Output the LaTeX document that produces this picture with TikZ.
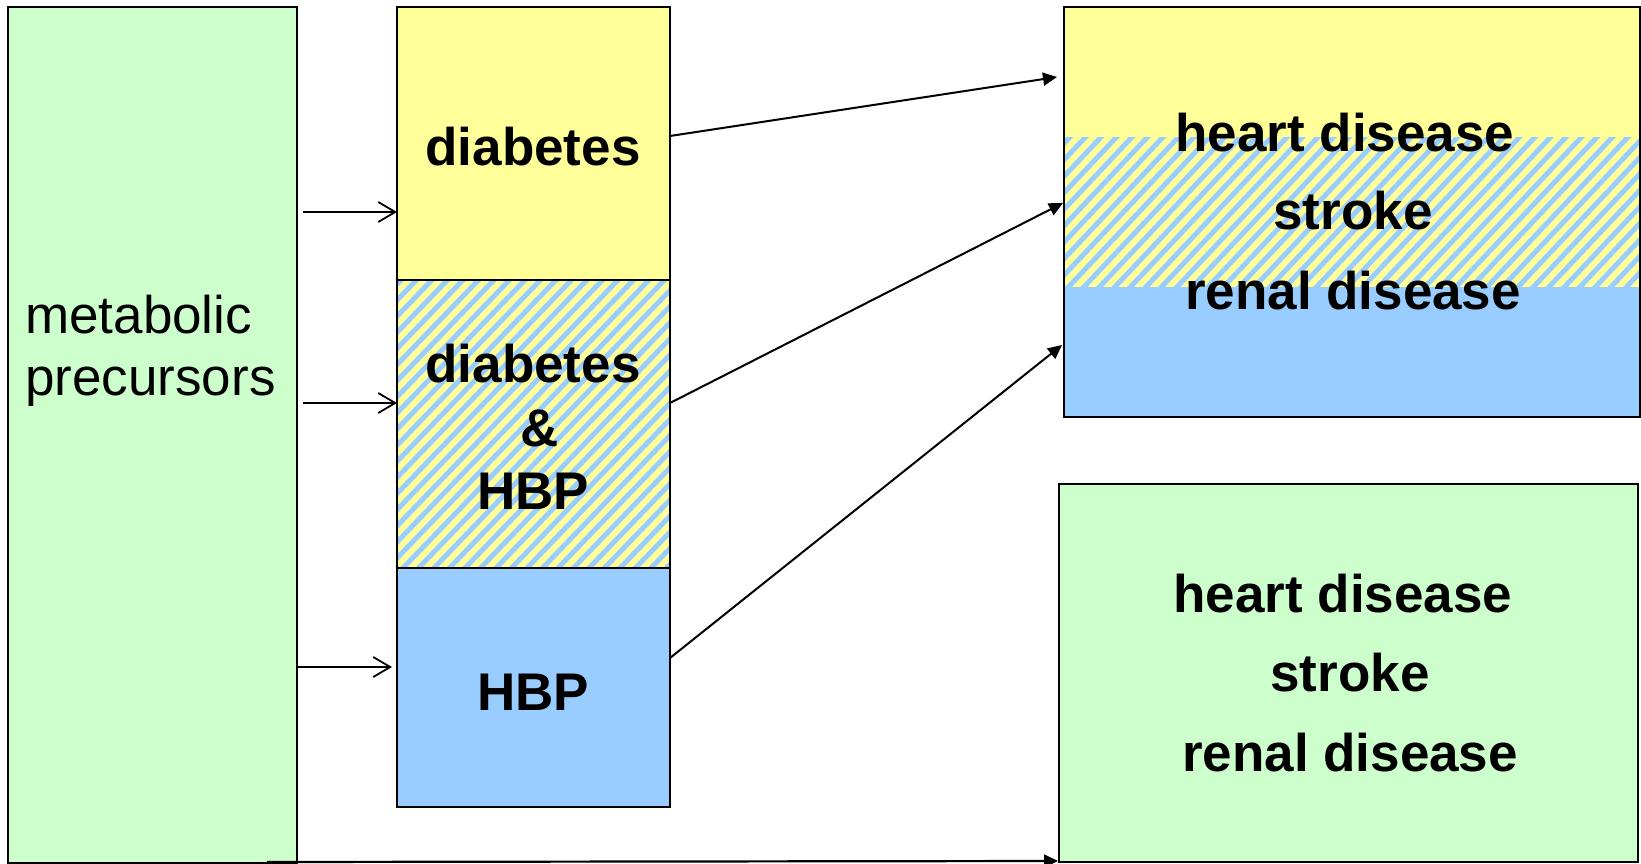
\documentclass[tikz,border=0pt]{standalone}
\usepackage{fontspec}
\setmainfont{Liberation Sans}
\usetikzlibrary{arrows.meta,calc}
\definecolor{pgreen}{RGB}{204,255,204}
\definecolor{pyellow}{RGB}{255,255,153}
\definecolor{pblue}{RGB}{153,204,255}
\begin{document}
\begin{tikzpicture}[x=1pt,y=-1pt,
  box/.style={draw=black,line width=1.8pt,inner sep=0pt,outer sep=0pt,anchor=north west},
  plain/.style={font=\fontsize{53}{63}\selectfont,anchor=base west,inner sep=0pt},
  lbl/.style={font=\fontsize{53}{63}\selectfont\bfseries,anchor=base,inner sep=0pt},
  inarrow/.style={line width=1.8pt,-{Straight Barb[length=17pt,width=20pt,line width=1.8pt]}},
  outarrow/.style={line width=2pt,-{Triangle[length=14pt,width=13pt]}},
  stripe/.style={pblue,line width=5pt}
]
\clip (0,0) rectangle (1641,864);
\useasboundingbox (0,0) rectangle (1641,864);

% left box
\node[box,fill=pgreen,minimum width=289pt,minimum height=856pt] (meta) at (8,7) {};

% middle column
\node[box,fill=pyellow,minimum width=273pt,minimum height=273pt] (diab) at (397,7) {};
\node[box,draw=none,fill=pyellow,minimum width=273pt,minimum height=288pt] (both) at (397,280) {};
\begin{scope}
  \clip (397,280) rectangle (670,568);
  \foreach \k in {0,15.5,...,620} {
    \draw[stripe] (397+\k-300,580) -- (397+\k,280-12);
  }
\end{scope}
\draw[black,line width=1.8pt] (both.north west) rectangle (both.south east);
\node[box,fill=pblue,minimum width=273pt,minimum height=239pt] (hbp) at (397,568) {};

% right top box
\node[box,draw=none,fill=pyellow,minimum width=576pt,minimum height=410pt] (rt) at (1064,7) {};
\fill[pblue] (1064,287) rectangle (1640,417);
\begin{scope}
  \clip (1064,138) rectangle (1640,287);
  \foreach \k in {0,15.5,...,780} {
    \draw[stripe] (1064+\k-160,297) -- (1064+\k,127);
  }
\end{scope}
\draw[black,line width=1.8pt] (rt.north west) rectangle (rt.south east);

% right bottom box
\node[box,fill=pgreen,minimum width=579pt,minimum height=378pt] (rb) at (1059,484) {};

% texts
\node[plain] (m1) at (25,333) {metabolic};
\node[plain] (m2) at (25,395) {precursors};
\node[lbl] (t1) at (533,165) {diabetes};
\node[lbl] (t2) at (533,382) {diabetes};
\node[lbl] (t3) at (540,446) {\&};
\node[lbl] (t4) at (533,509) {HBP};
\node[lbl] (t5) at (533,710) {HBP};
\node[lbl] (r1) at (1345,152) {heart disease};
\node[lbl] (r2) at (1353,229) {stroke};
\node[lbl] (r3) at (1353,309) {renal disease};
\node[lbl] (b1) at (1343,612) {heart disease};
\node[lbl] (b2) at (1350,691) {stroke};
\node[lbl] (b3) at (1350,771) {renal disease};

% input arrows
\draw[inarrow] ($(meta.north east)+(6,205)$) -- ($(diab.north west)+(0,205)$);
\draw[inarrow] ($(meta.north east)+(6,396)$) -- ($(both.north west)+(0,123)$);
\draw[inarrow] ($(meta.north east)+(0,660)$) -- ($(hbp.north west)+(-5,99)$);

% output arrows
\draw[outarrow] ($(diab.north east)+(0,129)$) -- ($(rt.north west)+(-7,70)$);
\draw[outarrow] ($(both.north east)+(0,123)$) -- ($(rt.north west)+(-1,196)$);
\draw[outarrow] ($(hbp.north east)+(0,90)$) -- ($(rt.north west)+(-2,338)$);
\draw[line width=2.2pt,-{Triangle[length=14pt,width=13pt]}] ($(meta.south east)+(-30,-1)$) -- ($(rb.south west)+(-1,-1)$);
\end{tikzpicture}
\end{document}
